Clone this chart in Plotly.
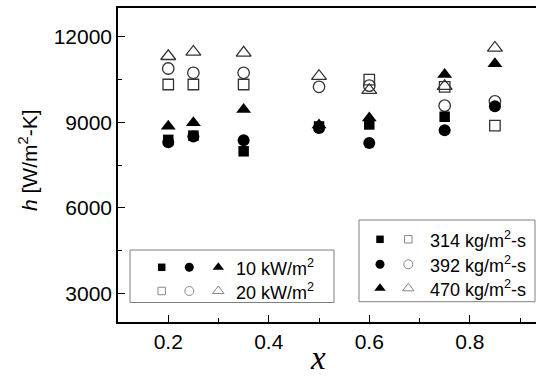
import plotly.graph_objects as go

# ---- data ----
x_vals = [0.2, 0.25, 0.35, 0.5, 0.6, 0.75, 0.85]

# 10 kW/m2 (filled)
q10_314 = [8380, 8530, 7980, 8850, 8920, 9190, None]
q10_392 = [8300, 8500, 8370, 8800, 8270, 8720, 9560]
q10_470 = [8860, 8980, 9440, 8900, 9150, 10670, 11050]
# 20 kW/m2 (open)
q20_314 = [10320, 10320, 10320, None, 10490, 10240, 8880]
q20_392 = [10880, 10730, 10730, 10240, 10280, 9580, 9730]
q20_470 = [11310, 11460, 11430, 10610, 10120, 10260, 11600]

y_ticks = [3000, 6000, 9000, 12000]
x_ticks = [0.2, 0.4, 0.6, 0.8]
heat_flux_labels = ["10 kW/m<sup>2</sup>", "20 kW/m<sup>2</sup>"]
mass_flux_labels = ["314 kg/m<sup>2</sup>-s", "392 kg/m<sup>2</sup>-s", "470 kg/m<sup>2</sup>-s"]

W, H = 536, 376
L, T, B = 118, 8, 322

FONT = "Arial, Liberation Sans, sans-serif"

fig = go.Figure()

def add(y, symbol, size, filled):
    if filled:
        m = dict(symbol=symbol, size=size, color="black", line=dict(width=0))
    else:
        m = dict(symbol=symbol + "-open", size=size, color="#333333", line=dict(width=1.3))
    fig.add_trace(go.Scatter(x=x_vals, y=y, mode="markers", marker=m,
                             showlegend=False, hoverinfo="skip", cliponaxis=False))

add(q20_314, "square", 10.5, False)
add(q20_392, "circle", 11.5, False)
add(q20_470, "triangle-up", 13, False)
add(q10_314, "square", 10.5, True)
add(q10_392, "circle", 12, True)
add(q10_470, "triangle-up", 13, True)

# ---- legend boxes drawn on a pixel-space overlay axis ----
syms = ["square", "circle", "triangle-up"]
sizes_leg = [7.5, 9, 10]

def leg_marker(px, py, sym, size, filled):
    if filled:
        m = dict(symbol=sym, size=size, color="black", line=dict(width=0))
    else:
        m = dict(symbol=sym + "-open", size=size, color="#888888", line=dict(width=1))
    fig.add_trace(go.Scatter(x=[px], y=[py], mode="markers", marker=m,
                             xaxis="x2", yaxis="y2", showlegend=False, hoverinfo="skip",
                             cliponaxis=False))

def px2paper(px, py):
    return (px - L) / (W - L), (B - py) / (B - T)

# left legend: heat flux
fig.add_shape(type="rect", xref="x2", yref="y2", x0=130, x1=334, y0=250, y1=302.5,
              line=dict(color="#808080", width=1), fillcolor="white", layer="below")
rows_l = [267.3, 291]
cols_l = [161.7, 189.3, 218.3]
for r, (ry, lab) in enumerate(zip(rows_l, heat_flux_labels)):
    for c, cx in enumerate(cols_l):
        leg_marker(cx, ry, syms[c], sizes_leg[c], r == 0)
    fig.add_annotation(x=234, y=ry, xref="x2", yref="y2", text=lab, showarrow=False,
                       xanchor="left", yanchor="middle", font=dict(size=18, color="black", family=FONT))

# right legend: mass flux
fig.add_shape(type="rect", xref="x2", yref="y2", x0=359, x1=535, y0=220, y1=301.7,
              line=dict(color="#808080", width=1), fillcolor="white", layer="below")
rows_r = [239.3, 264.3, 288.3]
for r, (ry, lab) in enumerate(zip(rows_r, mass_flux_labels)):
    leg_marker(380, ry, syms[r], sizes_leg[r], True)
    leg_marker(408.3, ry, syms[r], sizes_leg[r], False)
    fig.add_annotation(x=427.5, y=ry, xref="x2", yref="y2", text=lab, showarrow=False,
                       xanchor="left", yanchor="middle", font=dict(size=18, color="black", family=FONT))

# axis titles (paper coordinates, outside plot area)
ax, ay = px2paper(318, 358)
fig.add_annotation(x=ax, y=ay, xref="paper", yref="paper", text="x", showarrow=False,
                   xanchor="center", yanchor="middle",
                   font=dict(size=33, color="black", family="Times New Roman, Liberation Serif, serif",
                             style="italic"))
ax, ay = px2paper(28, 160)
fig.add_annotation(x=ax, y=ay, xref="paper", yref="paper",
                   text="<i>h</i> [W/m<sup>2</sup>-K]", showarrow=False, textangle=-90,
                   xanchor="center", yanchor="middle",
                   font=dict(size=21, color="black", family=FONT))

x_lo = 0.1
x_hi = 0.2 + (W - 168.3) / 502.5

fig.update_layout(
    width=W, height=H,
    margin=dict(l=L, r=0, t=T, b=H - B),
    paper_bgcolor="white", plot_bgcolor="white",
    font=dict(family=FONT, color="black", size=21),
    xaxis=dict(range=[x_lo, x_hi], tickvals=x_ticks, ticktext=[str(v) for v in x_ticks],
               ticks="inside", ticklen=7, tickwidth=1, tickcolor="black",
               minor=dict(tickvals=[0.3, 0.5, 0.7, 0.9], ticks="inside", ticklen=4,
                          tickwidth=1, tickcolor="black"),
               showline=True, linecolor="black", linewidth=1.5, mirror=True,
               showgrid=False, zeroline=False, tickfont=dict(size=21)),
    yaxis=dict(range=[2000, 13000], tickvals=y_ticks, ticktext=[str(v) for v in y_ticks],
               ticks="inside", ticklen=7, tickwidth=1, tickcolor="black",
               minor=dict(tickvals=[4500, 7500, 10500], ticks="inside", ticklen=4,
                          tickwidth=1, tickcolor="black"),
               showline=True, linecolor="black", linewidth=1.5, mirror=False,
               showgrid=False, zeroline=False, tickfont=dict(size=21)),
    xaxis2=dict(range=[L, W], overlaying="x", visible=False, domain=[0, 1]),
    yaxis2=dict(range=[B, T], overlaying="y", visible=False, domain=[0, 1]),
)

fig.write_html("out.html")
